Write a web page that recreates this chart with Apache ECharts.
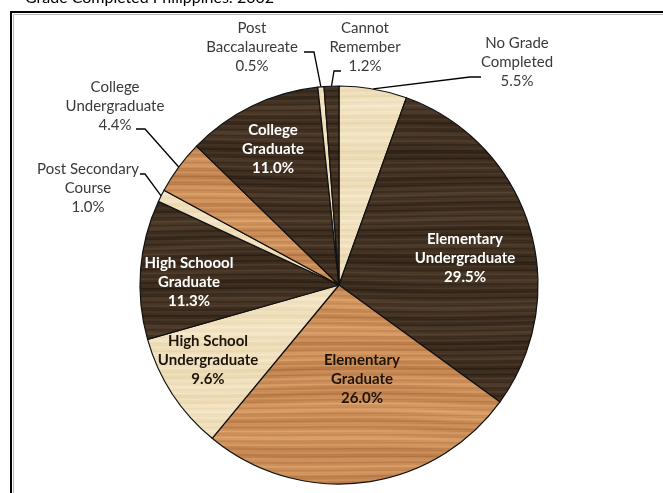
<!DOCTYPE html>
<html>
<head>
<meta charset="utf-8">
<script src="https://cdn.jsdelivr.net/npm/echarts@6/dist/echarts.min.js"></script>
<style>
  html, body { margin: 0; padding: 0; background: #fff; }
  #chart { width: 663px; height: 493px; }
</style>
</head>
<body>
<div id="chart"></div>
<script>
// ---- data ----
var titleText = 'Grade Completed Philippines: 2002';
var categories = [
  'No Grade\nCompleted',
  'Elementary\nUndergraduate',
  'Elementary\nGraduate',
  'High School\nUndergraduate',
  'High Schoool\nGraduate',
  'Post Secondary\nCourse',
  'College\nUndergraduate',
  'College\nGraduate',
  'Post\nBaccalaureate',
  'Cannot\nRemember'
];
var values = [5.5, 29.5, 26.0, 9.6, 11.3, 1.0, 4.4, 11.0, 0.5, 1.2];
var woodTone = ['pale', 'dark', 'medium', 'pale', 'dark', 'pale', 'medium', 'dark', 'pale', 'dark'];
var insideLabel = [false, true, true, true, true, false, false, true, false, false];

// ---- wood texture patterns (deterministic) ----
function woodCanvas(lo, hi, amp) {
  var w = 700, h = 520;
  var c = document.createElement('canvas');
  c.width = w; c.height = h;
  var ctx = c.getContext('2d');
  var img = ctx.createImageData(w, h);
  var d = img.data;
  for (var y = 0; y < h; y++) {
    for (var x = 0; x < w; x++) {
      var warp = 1.6 * Math.sin(x * 0.009 + y * 0.043) + 0.8 * Math.sin(x * 0.023 - y * 0.017);
      var s = 0.40 * Math.sin((y + warp) * 0.95)
            + 0.30 * Math.sin((y + warp * 2) * 0.23 + Math.sin(x * 0.005) * 1.5)
            + 0.18 * Math.sin(y * 2.3 + x * 0.012)
            + 0.12 * Math.sin(x * 0.004 + y * 0.06);
      var t = 0.5 + 0.5 * s * amp;
      if (t < 0) t = 0; if (t > 1) t = 1;
      var i = (y * w + x) * 4;
      d[i] = lo[0] + (hi[0] - lo[0]) * t;
      d[i + 1] = lo[1] + (hi[1] - lo[1]) * t;
      d[i + 2] = lo[2] + (hi[2] - lo[2]) * t;
      d[i + 3] = 255;
    }
  }
  ctx.putImageData(img, 0, 0);
  return c;
}
var woods = {
  dark: woodCanvas([40, 28, 17], [88, 68, 50], 1.0),
  medium: woodCanvas([176, 112, 62], [226, 168, 112], 1.0),
  pale: woodCanvas([230, 210, 166], [248, 236, 210], 0.9)
};

// ---- label layout (positions of label blocks, and leader line bends) ----
var labelSpots = [
  { x: 517, y: 62, bend: [[470, 77], [481, 77]] },
  { x: 465, y: 258 },
  { x: 362, y: 379 },
  { x: 208, y: 360 },
  { x: 189, y: 282 },
  { x: 88, y: 188, bend: [[145, 174], [140, 174]] },
  { x: 115, y: 106, bend: [[145, 129], [136, 129]] },
  { x: 273, y: 149 },
  { x: 252, y: 47, bend: [[314, 52], [304, 52]] },
  { x: 365, y: 47, bend: [[334, 71], [341, 71]] }
];

var seriesData = categories.map(function (name, i) {
  var tone = woodTone[i];
  var inside = insideLabel[i];
  return {
    name: name,
    value: values[i],
    itemStyle: { color: { image: woods[tone], repeat: 'no-repeat' } },
    label: inside ? {
      position: 'inside',
      fontWeight: 'bold',
      color: tone === 'dark' ? '#ffffff' : '#1e140a'
    } : {
      position: 'outside',
      fontWeight: 'normal',
      color: '#3a3a3a'
    },
    labelLine: { show: !inside }
  };
});

var chart = echarts.init(document.getElementById('chart'), null, { renderer: 'canvas' });
chart.setOption({
  animation: false,
  backgroundColor: '#ffffff',
  graphic: [
    { type: 'rect', shape: { x: 11, y: 12, width: 720, height: 540 },
      style: { fill: null, stroke: '#000000', lineWidth: 2 }, silent: true },
    { type: 'rect', shape: { x: 13.5, y: 14.5, width: 720, height: 540 },
      style: { fill: null, stroke: '#b8b8b8', lineWidth: 1 }, silent: true },
    { type: 'text', x: 25, y: 6,
      style: { text: titleText, font: '16px Lato, "Liberation Sans", sans-serif', fill: '#000000',
               verticalAlign: 'bottom', align: 'left' }, silent: true }
  ],
  series: [{
    type: 'pie',
    center: [339, 285],
    radius: [0, 199],
    startAngle: 90,
    clockwise: true,
    avoidLabelOverlap: false,
    silent: true,
    itemStyle: { borderColor: '#111111', borderWidth: 1.2 },
    label: {
      fontFamily: 'Lato, "Liberation Sans", sans-serif',
      fontSize: 15,
      lineHeight: 19,
      align: 'center',
      formatter: function (p) { return p.name + '\n' + p.value.toFixed(1) + '%'; }
    },
    labelLine: { lineStyle: { color: '#000000', width: 1.3 }, length: 10, length2: 10 },
    labelLayout: function (params) {
      var s = labelSpots[params.dataIndex];
      var out = { x: s.x, y: s.y, align: 'center', verticalAlign: 'middle' };
      if (s.bend && params.labelLinePoints) {
        var start = params.labelLinePoints[0];
        out.labelLinePoints = [start, s.bend[0], s.bend[1]];
      }
      return out;
    },
    data: seriesData
  }]
});
</script>
</body>
</html>
